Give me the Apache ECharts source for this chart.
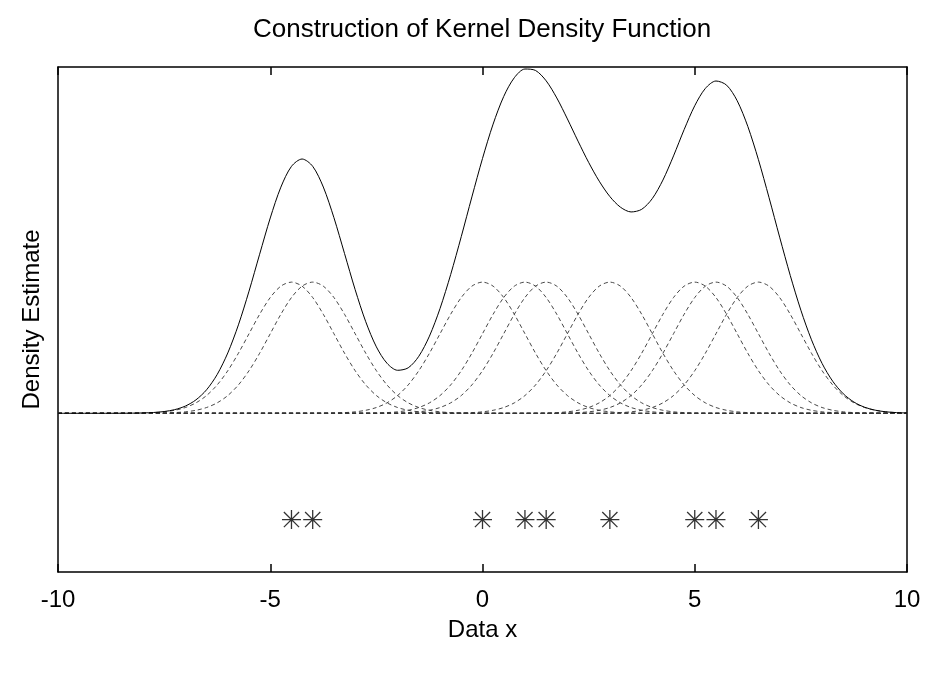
<!DOCTYPE html>
<html>
<head>
<meta charset="utf-8">
<title>Construction of Kernel Density Function</title>
<script src="https://cdn.jsdelivr.net/npm/echarts@6/dist/echarts.min.js"></script>
<style>
  html, body { margin: 0; padding: 0; background: #fff; }
  #kdechart { width: 935px; height: 676px; }
</style>
</head>
<body>
<div id="kdechart"></div>
<script>
var myChart = echarts.init(document.getElementById('kdechart'));

// observations (drawn as asterisks under the curves)
var samples = [-4.5, -4, 0, 1, 1.5, 3, 5, 5.5, 6.5];
var markerLevel = -0.81;

// one kernel bump, by offset from its centre
var kernelOffset = [-4, -3.75, -3.5, -3.25, -3, -2.75, -2.5, -2.25, -2, -1.75, -1.5, -1.25, -1, -0.75, -0.5, -0.25,
    0, 0.25, 0.5, 0.75, 1, 1.25, 1.5, 1.75, 2, 2.25, 2.5, 2.75, 3, 3.25, 3.5, 3.75, 4];
var kernelHeight = [0.0003, 0.0009, 0.0022, 0.0051, 0.0111, 0.0228, 0.0439, 0.0796, 0.1353, 0.2163, 0.3247, 0.4578, 0.6065, 0.7548, 0.8825, 0.9692,
    1, 0.9692, 0.8825, 0.7548, 0.6065, 0.4578, 0.3247, 0.2163, 0.1353, 0.0796, 0.0439, 0.0228, 0.0111, 0.0051, 0.0022, 0.0009, 0.0003];

// the solid density estimate
var densityX = [-10, -9.75, -9.5, -9.25, -9, -8.75, -8.5, -8.25, -8, -7.75, -7.5, -7.25, -7, -6.75, -6.5, -6.25,
    -6, -5.75, -5.5, -5.25, -5, -4.75, -4.5, -4.25, -4, -3.75, -3.5, -3.25, -3, -2.75, -2.5, -2.25,
    -2, -1.75, -1.5, -1.25, -1, -0.75, -0.5, -0.25, 0, 0.25, 0.5, 0.75, 1, 1.25, 1.5, 1.75,
    2, 2.25, 2.5, 2.75, 3, 3.25, 3.5, 3.75, 4, 4.25, 4.5, 4.75, 5, 5.25, 5.5, 5.75,
    6, 6.25, 6.5, 6.75, 7, 7.25, 7.5, 7.75, 8, 8.25, 8.5, 8.75, 9, 9.25, 9.5, 9.75, 10];
var densityY = [0, 0, 0, 0, 0, 0.0001, 0.0003, 0.0010, 0.0025, 0.0060, 0.0133, 0.0279, 0.0550, 0.1024, 0.1792, 0.2959,
    0.4600, 0.6741, 0.9312, 1.2126, 1.4890, 1.7240, 1.8825, 1.9385, 1.8828, 1.7249, 1.4912, 1.2178, 0.9426, 0.6979, 0.5064, 0.3815,
    0.3278, 0.3466, 0.4347, 0.5882, 0.7993, 1.0576, 1.3472, 1.6494, 1.9426, 2.2047, 2.4154, 2.5585, 2.6246, 2.6135, 2.5344, 2.4041,
    2.2441, 2.0750, 1.9129, 1.7694, 1.6525, 1.5712, 1.5350, 1.5550, 1.6369, 1.7780, 1.9623, 2.1626, 2.3450, 2.4768, 2.5332, 2.5017,
    2.3826, 2.1869, 1.9334, 1.6442, 1.3428, 1.0508, 0.7857, 0.5602, 0.3797, 0.2442, 0.1486, 0.0856, 0.0464, 0.0238, 0.0114, 0.0052, 0.0022];

var xTicks = [-10, -5, 0, 5, 10];

var font = 'Liberation Sans, Arial, Helvetica, sans-serif';
var asterisk = 'path://M0,8L16,8M8,0L8,16M1.6,1.6L14.4,14.4M14.4,1.6L1.6,14.4';

var curvePoints = [];
for (var i = 0; i < densityX.length; i++) {
    curvePoints.push([densityX[i], densityY[i]]);
}

var frame = { onZero: false, lineStyle: { color: '#000', width: 1.5 } };

var option = {
    animation: false,
    backgroundColor: '#fff',
    title: {
        text: 'Construction of Kernel Density Function',
        left: 248,
        top: 12,
        textStyle: {
            color: '#000',
            fontFamily: font,
            fontSize: 26,
            fontWeight: 'normal'
        }
    },
    grid: {
        left: 58,
        right: 28,
        top: 67,
        bottom: 104
    },
    xAxis: [{
        type: 'value',
        min: xTicks[0],
        max: xTicks[xTicks.length - 1],
        interval: 5,
        name: 'Data x',
        nameLocation: 'middle',
        nameGap: 46,
        nameTextStyle: { color: '#000', fontFamily: font, fontSize: 24 },
        axisLine: frame,
        axisTick: { inside: true, length: 8, lineStyle: { color: '#000', width: 1.5 } },
        axisLabel: { color: '#000', fontFamily: font, fontSize: 24, margin: 16 },
        splitLine: { show: false }
    }, {
        type: 'value',
        position: 'top',
        min: xTicks[0],
        max: xTicks[xTicks.length - 1],
        interval: 5,
        axisLine: frame,
        axisTick: { inside: true, length: 8, lineStyle: { color: '#000', width: 1.5 } },
        axisLabel: { show: false },
        splitLine: { show: false }
    }],
    yAxis: [{
        type: 'value',
        min: -1.21,
        max: 2.64,
        name: 'Density Estimate',
        nameLocation: 'middle',
        nameGap: 14,
        nameTextStyle: { color: '#000', fontFamily: font, fontSize: 24 },
        axisLine: { show: true, onZero: false, lineStyle: { color: '#000', width: 1.5 } },
        axisTick: { show: false },
        axisLabel: { show: false },
        splitLine: { show: false }
    }, {
        type: 'value',
        position: 'right',
        min: -1.21,
        max: 2.64,
        axisLine: { show: true, onZero: false, lineStyle: { color: '#000', width: 1.5 } },
        axisTick: { show: false },
        axisLabel: { show: false },
        splitLine: { show: false }
    }],
    series: []
};

// one dashed bump per observation, running out to both ends of the axis
for (var k = 0; k < samples.length; k++) {
    var pts = [];
    if (samples[k] + kernelOffset[0] > xTicks[0]) pts.push([xTicks[0], 0]);
    for (var j = 0; j < kernelOffset.length; j++) {
        var x = samples[k] + kernelOffset[j];
        if (x >= xTicks[0] && x <= xTicks[xTicks.length - 1]) pts.push([x, kernelHeight[j]]);
    }
    if (samples[k] + kernelOffset[kernelOffset.length - 1] < xTicks[xTicks.length - 1]) pts.push([xTicks[xTicks.length - 1], 0]);
    option.series.push({
        name: 'kernel ' + samples[k],
        type: 'line',
        data: pts,
        smooth: 0.3,
        showSymbol: false,
        silent: true,
        lineStyle: { color: '#333', width: 0.9, type: [4, 3] }
    });
}

option.series.push({
    name: 'density',
    type: 'line',
    data: curvePoints,
    smooth: 0.3,
    showSymbol: false,
    silent: true,
    lineStyle: { color: '#000', width: 1 }
});

option.series.push({
    name: 'data',
    type: 'scatter',
    data: samples.map(function (s) { return [s, markerLevel]; }),
    symbol: asterisk,
    symbolSize: 19,
    silent: true,
    itemStyle: { color: 'none', borderColor: '#000', borderWidth: 1.3 }
});

myChart.setOption(option);
</script>
</body>
</html>
